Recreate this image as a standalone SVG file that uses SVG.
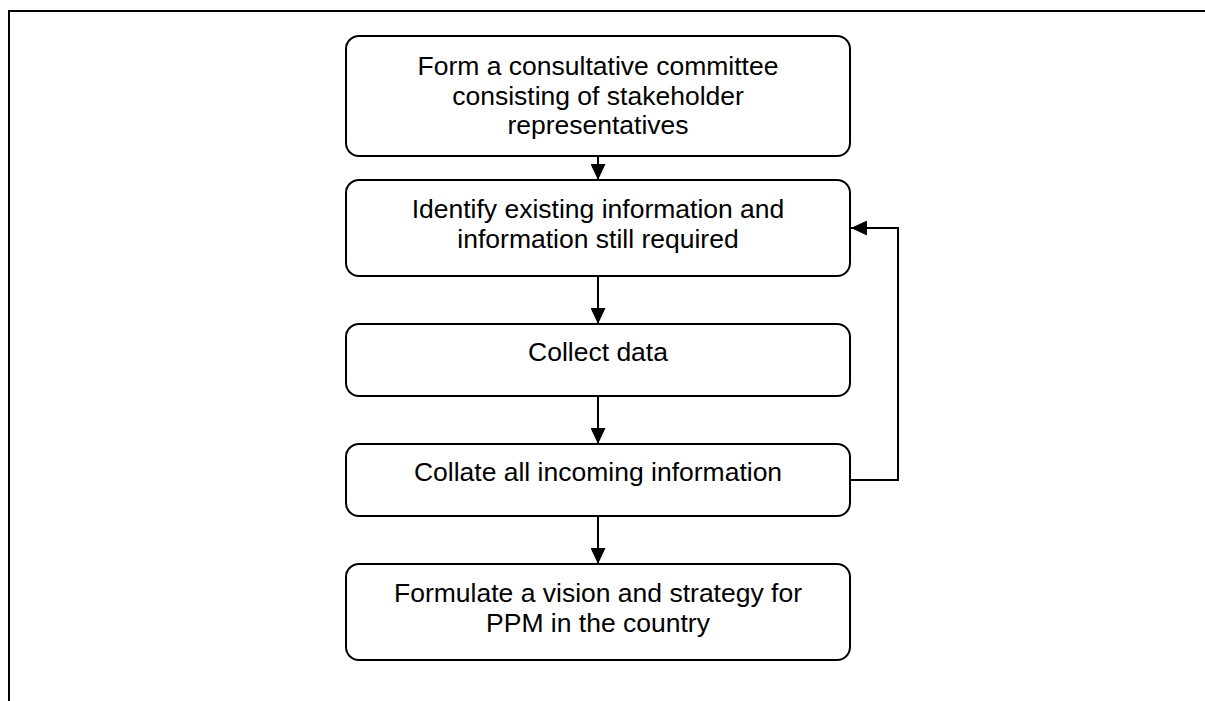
<svg xmlns="http://www.w3.org/2000/svg" width="1205" height="701" viewBox="0 0 1205 701">
<style>
.box{fill:#fff;stroke:#000;stroke-width:2}
.t{font-family:"Liberation Sans",Arial,sans-serif;font-size:26.5px;fill:#000;text-anchor:middle}
.c{fill:none;stroke:#000;stroke-width:2}
</style>
<defs>
<marker id="ah" markerWidth="16" markerHeight="15" refX="16" refY="7.5" orient="auto" markerUnits="userSpaceOnUse">
<path d="M0,0 L16,7.5 L0,15 Z" fill="#000"/>
</marker>
</defs>
<rect width="1205" height="701" fill="#fff"/>
<g id="frame">
<path d="M9,701 V11 H1205" fill="none" stroke="#000" stroke-width="2"/>
</g>
<g id="n1">
<rect class="box" x="346" y="36" width="504" height="120" rx="13"/>
<text class="t" x="598" y="75">Form a consultative committee</text>
<text class="t" x="598" y="105">consisting of stakeholder</text>
<text class="t" x="598" y="134">representatives</text>
</g>
<g id="n2">
<rect class="box" x="346" y="180" width="504" height="96" rx="13"/>
<text class="t" x="598" y="218">Identify existing information and</text>
<text class="t" x="598" y="248">information still required</text>
</g>
<g id="n3">
<rect class="box" x="346" y="324" width="504" height="72" rx="13"/>
<text class="t" x="598" y="361">Collect data</text>
</g>
<g id="n4">
<rect class="box" x="346" y="444" width="504" height="72" rx="13"/>
<text class="t" x="598" y="481">Collate all incoming information</text>
</g>
<g id="n5">
<rect class="box" x="346" y="564" width="504" height="96" rx="13"/>
<text class="t" x="598" y="602">Formulate a vision and strategy for</text>
<text class="t" x="598" y="632">PPM in the country</text>
</g>
<g id="connectors">
<path class="c" d="M598,156 V180" marker-end="url(#ah)"/>
<path class="c" d="M598,276 V324" marker-end="url(#ah)"/>
<path class="c" d="M598,396 V444" marker-end="url(#ah)"/>
<path class="c" d="M598,516 V564" marker-end="url(#ah)"/>
<path class="c" d="M850,480 H898 V228 H851" marker-end="url(#ah)"/>
</g>
</svg>
